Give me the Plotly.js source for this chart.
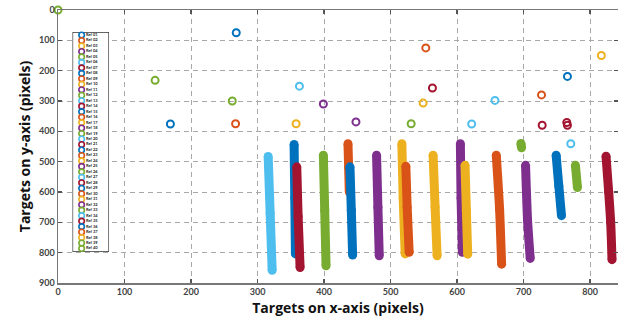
<!DOCTYPE html>
<html>
<head>
<meta charset="utf-8">
<script src="https://cdn.plot.ly/plotly-3.0.1.min.js"></script>
<style>html,body{margin:0;padding:0;background:#fff;}#chart{width:618px;height:324px;}</style>
</head>
<body>
<div id="chart"></div>
<script>
// ---- data ----
const refNames = ['Ref 01','Ref 02','Ref 03','Ref 04','Ref 05','Ref 06','Ref 07','Ref 08','Ref 09','Ref 10',
                  'Ref 11','Ref 12','Ref 13','Ref 14','Ref 15','Ref 16','Ref 17','Ref 18','Ref 19','Ref 20',
                  'Ref 21','Ref 22','Ref 23','Ref 24','Ref 25','Ref 26','Ref 27','Ref 28','Ref 29','Ref 30',
                  'Ref 31','Ref 32','Ref 33','Ref 34','Ref 35','Ref 36','Ref 37','Ref 38','Ref 39','Ref 40'];
const BLUE='#0072BD', ORANGE='#D95319', YELLOW='#EDB120', PURPLE='#7E2F8E', GREEN='#77AC30', LBLUE='#4DBEEE', RED='#A2142F';
const refColors = [BLUE,ORANGE,YELLOW,PURPLE,GREEN,LBLUE,RED,
                   BLUE,ORANGE,YELLOW,PURPLE,GREEN,LBLUE,RED,
                   BLUE,ORANGE,YELLOW,PURPLE,GREEN,LBLUE,RED,
                   BLUE,ORANGE,YELLOW,PURPLE,GREEN,LBLUE,RED,
                   BLUE,ORANGE,YELLOW,PURPLE,GREEN,LBLUE,RED,
                   BLUE,ORANGE,YELLOW,GREEN,GREEN];
// 'ring' = isolated detections (open circles), 'track' = dense tracks
const refKind = ['ring','ring','ring','ring','ring','ring','ring',
                 'ring','track','ring','ring','ring','ring','ring',
                 'track','ring','track','track','ring','ring','track',
                 'ring','ring','ring','track','track','ring','ring',
                 'track','track','track','track','track','track','track',
                 'track','track','track','ring','track'];
const refX = [[268],[267],[358],[399],[146],[363],[563],
              [169],[436,437,438],[549],[448],[262],[657],[728],
              [355,356,357],[553],[517,519,522],[479,481,483],[531],[622],[359,361,364],
              [766],[727],[817],[605,606,608],[696,697],[771],[765,766],
              [749,753,757],[523,525,528],[564,567,570],[703,706,710],[399,401,403],[316,319,322],[824,828,831,833],
              [439,441,443],[659,664,667],[612,614,616],[0],[778,781]];
const refY = [[75],[375],[375],[310],[232],[251],[257],
              [376],[441,520,600],[307],[369],[300],[298],[380],
              [443,620,804],[125],[441,620,804],[479,650,810],[375],[376],[517,680,849],
              [219],[280],[150],[441,620,799],[440,454],[441],[371,380],
              [479,580,678],[515,650,799],[479,650,810],[512,692,819],[479,660,843],[483,670,858],[482,600,700,823],
              [517,660,808],[479,659,838],[512,660,805],[0],[512,585]];
const xTicks = [0,100,200,300,400,500,600,700,800];
const yTicks = [0,100,200,300,400,500,600,700,800,900];
const xTitle = 'Targets on x-axis (pixels)';
const yTitle = 'Targets on y-axis (pixels)';

// ---- traces ----
const traces = [];
for (let i = 0; i < refNames.length; i++) {
  if (refKind[i] === 'ring') {
    traces.push({type:'scatter', mode:'markers', name:refNames[i], x:refX[i], y:refY[i],
      cliponaxis:false, hoverinfo:'skip',
      marker:{symbol:'circle-open', size:7, color:refColors[i], line:{width:2, color:refColors[i]}}});
  } else {
    traces.push({type:'scatter', mode:'lines+markers', name:refNames[i], x:refX[i], y:refY[i],
      cliponaxis:false, hoverinfo:'skip',
      line:{color:refColors[i], width:9, shape:'spline', smoothing:0.6},
      marker:{symbol:'circle', size:9, color:refColors[i], line:{width:0}}});
  }
}
// inset legend box, drawn on its own small axes
const legIdx = refNames.map((_, i) => i + 1);
traces.push({type:'scatter', mode:'markers+text', xaxis:'x2', yaxis:'y2',
  x: refNames.map(() => 0.25), y: legIdx, text: refNames, textposition:'middle right',
  textfont:{family:'Lato', size:4, color:'#222', weight:700}, hoverinfo:'skip', cliponaxis:false,
  marker:{symbol:'circle-open', size:5.5, color:refColors, line:{width:1.6, color:refColors}}});

const tickFont = {family:'Lato', size:9, color:'#444', weight:700};
const titleFont = {family:'Open Sans', size:14, color:'#111', weight:700};
const axisCommon = {ticks:'inside', ticklen:4, tickwidth:1.2, tickcolor:'#555',
  showline:true, linecolor:'#777', linewidth:1.5, mirror:'ticks',
  showgrid:true, gridcolor:'#a8a8a8', gridwidth:1, griddash:'5px,4px', zeroline:false,
  tickfont:tickFont};

const layout = {
  width:618, height:324, margin:{l:58, r:0, t:10, b:41},
  paper_bgcolor:'#fff', plot_bgcolor:'#fff', showlegend:false,
  xaxis: Object.assign({}, axisCommon, {range:[0,842], tickvals:xTicks, ticktext:xTicks.map(String),
    title:{text:xTitle, font:titleFont, standoff:7}}),
  yaxis: Object.assign({}, axisCommon, {range:[900,0], tickvals:yTicks, ticktext:yTicks.map(String),
    title:{text:yTitle, font:titleFont, standoff:5}}),
  xaxis2: {domain:[0.0259, 0.0911], range:[0,1], anchor:'y2', visible:false, fixedrange:true},
  yaxis2: {domain:[0.1136, 0.9194], range:[40.64,0.45], anchor:'x2', visible:false, fixedrange:true},
  shapes: [{type:'rect', xref:'x2', yref:'y2', x0:0, x1:1, y0:0.45, y1:40.64, layer:'below',
    fillcolor:'#fff', line:{color:'#333', width:1.3}}]
};

Plotly.newPlot('chart', traces, layout, {displayModeBar:false, staticPlot:true});
</script>
</body>
</html>
